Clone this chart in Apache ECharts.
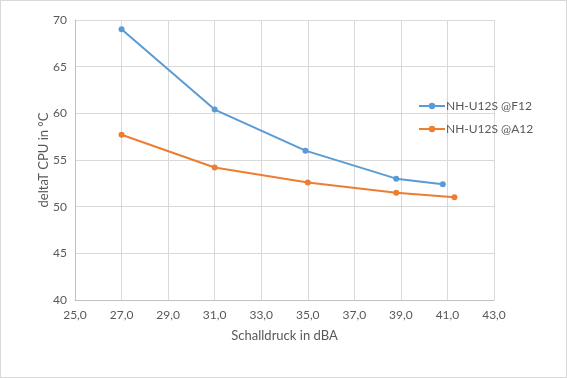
<!DOCTYPE html>
<html>
<head>
<meta charset="utf-8">
<script src="https://cdn.jsdelivr.net/npm/echarts@6/dist/echarts.min.js"></script>
<style>
  html, body { margin: 0; padding: 0; background: #fff; }
  #chart { width: 567px; height: 378px; box-sizing: border-box; border: 1px solid #d9d9d9; }
</style>
</head>
<body>
<div id="chart"></div>
<script>
  // Werte
  var seriesNames = ['NH-U12S @F12', 'NH-U12S @A12'];
  var dbaF12 = [27.0, 31.0, 34.9, 38.8, 40.8];
  var tempF12 = [69.0, 60.4, 56.0, 53.0, 52.4];
  var dbaA12 = [27.0, 31.0, 35.0, 38.8, 41.3];
  var tempA12 = [57.7, 54.2, 52.6, 51.5, 51.0];

  function pairs(xs, ys) {
    return xs.map(function (x, i) { return [x, ys[i]]; });
  }

  var fontFam = 'Lato, Open Sans, sans-serif';
  var textColor = '#595959';

  var myChart = echarts.init(document.getElementById('chart'));
  var option = {
    animation: false,
    color: ['#5b9bd5', '#ed7d31'],
    textStyle: { fontFamily: fontFam },
    grid: { left: 74, right: 72, top: 19, bottom: 77, containLabel: false },
    legend: {
      orient: 'vertical',
      left: 412,
      top: 94,
      itemWidth: 26,
      itemHeight: 8,
      itemGap: 11,
      textStyle: { color: textColor, fontSize: 12, fontFamily: fontFam, padding: [0, 0, 0, -4] },
      data: seriesNames
    },
    xAxis: {
      type: 'value',
      min: 25, max: 43, interval: 2,
      name: 'Schalldruck in dBA',
      nameLocation: 'middle',
      nameGap: 29,
      nameMoveOverlap: false,
      nameTextStyle: { color: textColor, fontSize: 13, fontFamily: fontFam },
      axisLine: { show: true, lineStyle: { color: '#bfbfbf' } },
      axisTick: { show: false },
      axisLabel: {
        color: textColor, fontSize: 12, margin: 9,
        formatter: function (v) { return v.toFixed(1).replace('.', ','); }
      },
      splitLine: { show: true, lineStyle: { color: '#d9d9d9' } }
    },
    yAxis: {
      type: 'value',
      min: 40, max: 70, interval: 5,
      name: 'deltaT CPU in °C',
      nameLocation: 'middle',
      nameGap: 25,
      nameMoveOverlap: false,
      nameTextStyle: { color: textColor, fontSize: 13, fontFamily: fontFam },
      axisLine: { show: true, lineStyle: { color: '#bfbfbf' } },
      axisTick: { show: false },
      axisLabel: { color: textColor, fontSize: 12, margin: 8 },
      splitLine: { show: true, lineStyle: { color: '#d9d9d9' } }
    },
    series: [
      {
        name: seriesNames[0],
        type: 'line',
        data: pairs(dbaF12, tempF12),
        symbol: 'circle',
        symbolSize: 6,
        lineStyle: { width: 2 }
      },
      {
        name: seriesNames[1],
        type: 'line',
        data: pairs(dbaA12, tempA12),
        symbol: 'circle',
        symbolSize: 6,
        lineStyle: { width: 2 }
      }
    ]
  };
  myChart.setOption(option);
</script>
</body>
</html>
